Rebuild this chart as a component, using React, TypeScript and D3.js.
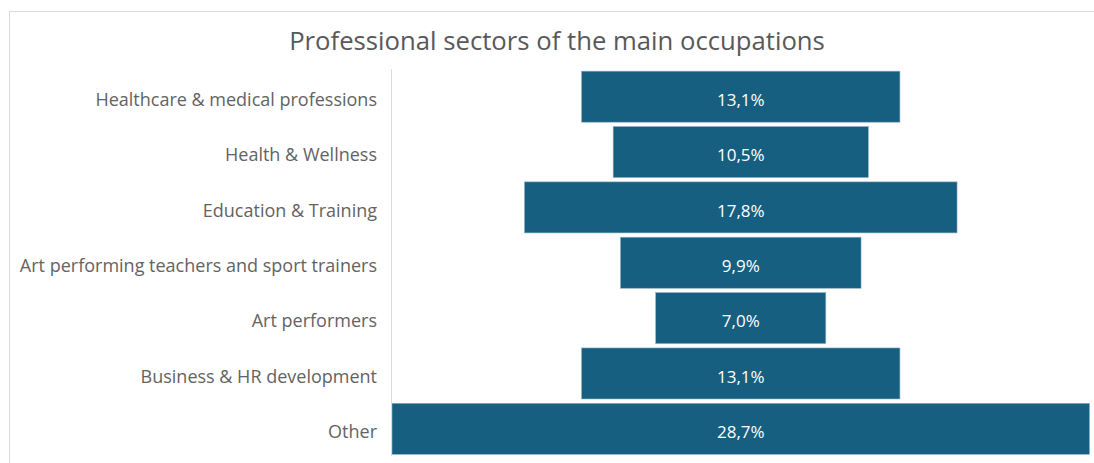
import React from "react";
import * as d3 from "d3";

const categories = [
  "Healthcare & medical professions",
  "Health & Wellness",
  "Education & Training",
  "Art performing teachers and sport trainers",
  "Art performers",
  "Business & HR development",
  "Other",
];
const values = [13.1, 10.5, 17.8, 9.9, 7.0, 13.1, 28.7];
const valueLabels = ["13,1%", "10,5%", "17,8%", "9,9%", "7,0%", "13,1%", "28,7%"];
const title = "Professional sectors of the main occupations";

const W = 1094;
const H = 463;
const FONT = "'Open Sans', 'Segoe UI', sans-serif";

export default function App() {
  const plotLeft = 392;
  const plotRight = 1089.5;
  const center = (plotLeft + plotRight) / 2;
  const maxV = d3.max(values) as number;
  const half = d3.scaleLinear().domain([0, maxV]).range([0, (plotRight - plotLeft) / 2]);
  const y = d3.scaleBand<string>().domain(categories).range([69, 456.5]).paddingInner(0.078).paddingOuter(0.039);

  return (
    <svg width={W} height={H} style={{ position: "absolute", left: 0, top: 0, background: "#fff" }}>
      <rect x={9.5} y={11.5} width={W} height={H} fill="#fff" stroke="#d9d9d9" strokeWidth={1} />
      <text x={557} y={50} textAnchor="middle" fontFamily={FONT} fontSize={25.7} fill="#595959">
        {title}
      </text>
      {categories.map((c, i) => {
        const yy = y(c) as number;
        const hw = half(values[i]);
        return (
          <g key={c}>
            <rect x={center - hw} y={yy} width={hw * 2} height={y.bandwidth()} fill="#175f80" stroke="#8fb0c2" strokeWidth={0.6} />
            <text x={center} y={yy + y.bandwidth() / 2} dy="0.54em" textAnchor="middle" fontFamily={FONT} fontSize={17} fill="#ffffff">
              {valueLabels[i]}
            </text>
            <text x={377} y={yy + y.bandwidth() / 2} dy="0.52em" textAnchor="end" fontFamily={FONT} fontSize={18} fill="#636363">
              {c}
            </text>
          </g>
        );
      })}
      <line x1={391.5} x2={391.5} y1={69} y2={456} stroke="#d9d9d9" strokeWidth={1} />
    </svg>
  );
}
